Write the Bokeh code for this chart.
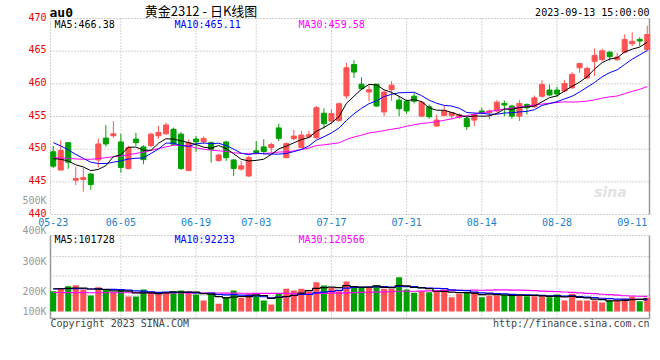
from bokeh.plotting import figure
from bokeh.models import Range1d, Label, ColumnDataSource
from bokeh.embed import file_html
from bokeh.resources import INLINE
from bokeh.core.properties import value

MONO = "DejaVu Sans Mono"
RED = "#ff5252"
GREEN = "#00a000"

dates = ["05-23","05-24","05-25","05-26","05-29","05-30","05-31","06-01","06-02",
         "06-05","06-06","06-07","06-08","06-09","06-12","06-13","06-14","06-15","06-16",
         "06-19","06-20","06-21","06-26","06-27","06-28","06-29","06-30",
         "07-03","07-04","07-05","07-06","07-07","07-10","07-11","07-12","07-13","07-14",
         "07-17","07-18","07-19","07-20","07-21","07-24","07-25","07-26","07-27","07-28",
         "07-31","08-01","08-02","08-03","08-04","08-07","08-08","08-09","08-10","08-11",
         "08-14","08-15","08-16","08-17","08-18","08-21","08-22","08-23","08-24","08-25",
         "08-28","08-29","08-30","08-31","09-01","09-04","09-05","09-06","09-07","09-08",
         "09-11","09-12","09-13"]
tick_dates = ["05-23","06-05","06-19","07-03","07-17","07-31","08-14","08-28","09-11"]
price_ticks = [440, 445, 450, 455, 460, 465, 470]
vol_grid = [128000, 284000, 440000]

open_ = [449.6,446.8,451.0,445.25,445.35,446.2,448.35,451.7,452.05,451.1,
         447.05,451.55,450.35,450.55,452.05,452.35,453.05,452.3,446.75,451.55,
         451.15,451.0,448.25,451.1,448.35,446.95,445.9,449.75,450.35,450.25,
         453.25,448.7,451.6,450.25,451.9,451.75,455.5,454.3,454.4,458.15,
         462.95,459.95,458.75,459.95,455.7,459.1,457.5,457.35,458.1,455.05,
         456.5,453.55,455.15,455.15,454.9,454.7,454.45,455.85,455.6,455.85,
         457.0,456.6,455.05,456.85,456.5,458.1,459.05,459.05,458.9,459.4,
         462.45,460.9,463.45,463.7,464.85,463.7,464.85,466.15,466.8,465.25]
high = [450.5,451.35,451.1,447.3,447.1,446.3,451.65,453.7,454.3,452.35,
        450.5,452.5,450.6,452.5,453.55,454.05,453.3,452.6,451.5,452.0,
        451.95,451.2,449.3,451.25,448.5,448.2,449.0,451.25,451.5,451.0,
        453.9,451.0,452.95,452.8,452.8,456.6,456.25,456.1,457.1,463.2,
        463.6,461.0,459.75,460.0,459.0,460.4,458.1,457.6,458.55,457.4,
        456.85,455.3,456.7,455.7,455.5,455.15,455.6,456.35,456.1,457.5,
        457.45,456.8,457.5,457.0,458.2,460.55,459.9,459.55,460.55,461.8,
        463.2,462.7,465.4,465.4,465.0,464.75,467.55,467.9,467.15,468.9]
low = [447.1,446.8,447.0,444.5,443.5,443.8,447.2,450.4,451.75,446.4,
       446.9,450.5,447.7,450.25,451.6,452.2,450.5,446.8,446.6,449.6,
       450.75,447.95,448.1,448.2,445.9,446.7,445.75,449.2,449.2,449.45,
       451.25,448.6,451.35,450.15,451.65,451.6,453.15,453.8,454.2,457.75,
       460.9,459.05,457.35,456.5,455.05,457.4,455.05,455.4,457.0,454.95,
       454.7,453.4,455.05,454.55,454.7,452.95,453.55,455.3,454.55,455.6,
       455.05,454.65,454.3,455.3,456.3,457.9,458.1,458.0,458.7,459.2,
       461.7,460.7,461.2,463.5,463.55,463.5,464.65,465.75,465.75,465.0]
close = [447.4,449.8,448.0,445.5,445.65,444.6,450.8,450.8,452.35,447.2,
         450.25,451.0,448.4,452.3,452.55,453.7,450.75,447.05,451.0,451.1,
         451.65,449.95,449.1,448.7,447.05,447.45,448.7,449.5,449.65,450.7,
         451.65,450.85,452.0,452.15,452.2,456.35,453.9,455.45,456.95,462.45,
         461.8,459.25,459.1,456.6,458.75,459.8,456.2,455.85,457.35,457.2,
         454.95,454.45,455.85,455.6,455.25,453.45,455.3,455.6,455.85,457.2,
         456.75,455.05,457.0,456.35,457.85,459.9,458.3,458.45,460.05,461.45,
         463.1,462.35,464.35,465.05,464.15,464.1,466.8,466.5,466.55,467.55]
ma5 = [448.55,448.45,448.2,447.6,447.28,446.71,446.9,447.47,448.84,449.15,
       450.28,450.32,449.84,449.83,450.9,451.59,451.54,451.27,451.0,450.72,
       450.31,450.14,450.56,450.1,449.29,448.45,448.2,448.28,448.46,449.2,
       450.04,450.47,450.97,451.48,451.78,452.72,453.33,454.01,454.97,457.02,
       458.11,459.17,459.91,459.83,459.09,458.69,458.08,457.43,457.58,457.28,
       456.31,455.96,455.96,455.61,455.22,454.92,455.09,455.04,455.09,455.47,
       456.14,456.09,456.37,456.47,456.61,457.24,457.88,458.16,458.91,459.62,
       460.26,461.08,462.26,463.25,463.79,463.99,464.87,465.31,465.62,466.38]
ma10 = [451.0,450.5,449.9,449.2,448.6,448.0,447.8,447.8,448.0,448.21,
        448.49,448.61,448.65,449.34,450.02,450.93,450.93,450.55,450.42,450.81,
        450.95,450.84,450.91,450.55,450.0,449.38,449.17,449.42,449.28,449.24,
        449.24,449.34,449.62,449.97,450.49,451.38,451.9,452.49,453.22,454.4,
        455.41,456.25,456.96,457.4,458.05,458.4,458.63,458.67,458.71,458.18,
        457.5,457.02,456.7,456.6,456.25,455.61,455.53,455.5,455.35,455.35,
        455.53,455.59,455.7,455.78,456.04,456.69,456.98,457.27,457.69,458.11,
        458.75,459.48,460.21,461.08,461.71,462.13,462.97,463.78,464.43,465.11]
ma30 = [448.7,448.65,448.6,448.5,448.45,448.45,448.55,448.7,448.85,448.95,
        449.15,449.35,449.55,449.8,450.1,450.35,450.6,450.6,450.5,450.2,
        450.0,449.85,449.75,449.65,449.45,449.35,449.3,449.3,449.35,449.42,
        449.56,449.59,449.73,449.95,450.17,450.56,450.66,450.82,450.97,451.48,
        451.86,452.14,452.49,452.64,452.84,453.05,453.23,453.52,453.73,453.94,
        454.05,454.2,454.42,454.65,454.93,455.13,455.35,455.55,455.76,455.97,
        456.14,456.28,456.45,456.59,456.78,456.9,457.04,457.14,457.25,457.21,
        457.26,457.36,457.54,457.82,458.0,458.14,458.49,458.85,459.16,459.58]
volume = [162000,186000,202000,210000,174000,128000,194000,174000,154000,176000,
          120000,120000,176000,154000,142000,150000,160000,168000,160000,136000,
          88000,146000,62000,114000,168000,110000,142000,128000,88000,56000,
          146000,182000,168000,182000,160000,234000,208000,190000,162000,240000,
          194000,190000,190000,208000,182000,182000,274000,176000,150000,162000,
          154000,168000,174000,114000,142000,154000,154000,114000,128000,128000,
          136000,134000,128000,122000,122000,122000,114000,136000,88000,142000,
          88000,88000,88000,72000,88000,94000,102000,120000,82000,110000]
vol_ma5 = [182000,182000,185000,188000,186800,180000,181600,176000,164800,165200,
           163600,148800,149200,149200,142400,148400,156400,154800,156000,154800,
           142400,139600,118400,109200,115600,120000,119200,132400,127200,104800,
           112000,120000,128000,146800,167600,185200,190400,194800,190800,206800,
           198800,195200,195200,204400,192800,190400,207200,204400,192800,188800,
           183200,162000,161600,154400,150400,150400,147600,135600,138400,135600,
           132000,128000,130800,129600,128400,125600,121600,123200,116400,120400,
           113600,108400,98800,95600,84800,86000,88800,95200,97200,101728]
vol_ma10 = [180000,182000,183000,183000,182000,180000,179000,178000,177000,176000,
            171800,165200,162600,157000,153800,156000,152600,152000,152600,148600,
            145400,148000,136600,132600,135200,131200,129400,125400,118200,110200,
            116000,119600,130200,137000,136200,148600,155200,161400,168800,187200,
            192000,192800,195000,197600,199800,194600,201200,199800,198600,190800,
            186800,184600,183000,173600,169600,166800,154800,148600,146400,143000,
            141200,137800,133200,134000,132000,128800,124800,127000,123000,124400,
            119600,115000,111000,106000,102600,99800,98600,97000,96400,92233]
vol_ma30 = [152000,152000,151000,151000,151000,150000,150000,150000,150000,150000,
            150000,150000,150000,150000,149000,149000,149000,149000,149000,148000,
            148000,148000,148000,147000,147000,146000,146000,145000,145000,144900,
            144400,144300,143100,142200,141700,145300,145700,146300,146500,148700,
            151100,153500,153900,155700,157100,158100,161900,162200,161900,162700,
            164900,165700,169400,169400,168500,170000,170400,169900,171300,173700,
            173300,171700,170400,168400,167100,163400,160300,158500,156000,152700,
            149200,145800,142400,137900,134700,131800,126100,124200,121900,120566]

n = len(dates)
xs = list(range(n))
colors = [RED if c >= o else GREEN for o, c in zip(open_, close)]
src = ColumnDataSource(dict(
    x=xs, high=high, low=low,
    top=[max(o, c) for o, c in zip(open_, close)],
    bottom=[min(o, c) for o, c in zip(open_, close)],
    color=colors, ma5=ma5, ma10=ma10, ma30=ma30,
    vol=volume, vma5=vol_ma5, vma10=vol_ma10, vma30=vol_ma30))
tick_idx = [dates.index(d) for d in tick_dates]

# ---- layout: one canvas, two panels on shared x scale ----
W, H = 660, 360
FX0, FX1 = 50, 649          # panel frame, pixels
PY0, PY1 = 18, 214          # price panel top/bottom, pixels
VY0, VY1 = 235, 318         # volume panel top/bottom, pixels
XL, XR = -0.36, 79.3        # index at panel left/right edge
KX = (FX1 - FX0) / (XR - XL)
PLO, PHI = price_ticks[0], price_ticks[-1]
KP = (PY1 - PY0) / (PHI - PLO)
VBASE, KV = 311, 8000.0     # pixel row of zero volume, volume per pixel


def lx(X):
    return XL + (X - FX0) / KX


def ly(Y):
    return PHI - (Y - PY0) / KP


def vy(Y):
    return (VBASE - Y) * KV


p = figure(width=W, height=H, x_range=Range1d(lx(0), lx(W)), y_range=Range1d(ly(H), ly(0)),
           output_backend="svg", toolbar_location=None,
           x_axis_location=None, y_axis_location=None,
           min_border=0, min_border_left=0, min_border_right=0,
           min_border_top=0, min_border_bottom=0)
p.extra_y_ranges = {"vol": Range1d(vy(H), vy(0))}
p.outline_line_color = None
p.background_fill_color = "white"
p.border_fill_color = "white"
for g in p.grid:
    g.visible = False

GRID = "#a8a8a8"
FRAME = "#999999"
VB, VT = vy(VY1), vy(VY0)

# price panel grid + frame
gx = tick_idx[1:-1]
p.segment(x0=gx, y0=[PLO] * len(gx), x1=gx, y1=[PHI] * len(gx),
          line_color=GRID, line_dash="1 2", line_width=1)
gy = price_ticks[1:-1]
p.segment(x0=[XL] * len(gy), y0=gy, x1=[XR] * len(gy), y1=gy,
          line_color=GRID, line_dash="1 2", line_width=1)
p.quad(left=[XL], right=[XR], bottom=[PLO], top=[PHI], fill_color=None,
       line_color="#a0a0a0", line_dash="1 2", line_width=1)
p.segment(x0=[XR], y0=[PLO], x1=[XR], y1=[PHI], line_color=FRAME, line_width=1.5)

# volume panel grid + frame
p.segment(x0=gx, y0=[VB] * len(gx), x1=gx, y1=[VT] * len(gx),
          line_color=GRID, line_dash="1 2", line_width=1, y_range_name="vol")
p.segment(x0=[XL] * len(vol_grid), y0=vol_grid, x1=[XR] * len(vol_grid), y1=vol_grid,
          line_color=GRID, line_dash="1 2", line_width=1, y_range_name="vol")
p.quad(left=[XL], right=[XR], bottom=[VB], top=[VT], fill_color=None,
       line_color="#a0a0a0", line_dash="1 2", line_width=1, y_range_name="vol")
p.segment(x0=[XL, XR, XL], y0=[VB, VB, VB], x1=[XL, XR, XR], y1=[VT, VT, VB],
          line_color=FRAME, line_width=1.5, y_range_name="vol")

# candles
p.segment(x0="x", y0="high", x1="x", y1="low", line_color="color", line_width=1, source=src)
p.vbar(x="x", width=0.67, top="top", bottom="bottom", fill_color="color",
       line_color="color", source=src)
p.line("x", "ma30", line_color="#ff00ff", line_width=1, source=src)
p.line("x", "ma10", line_color="#0000ff", line_width=1, source=src)
p.line("x", "ma5", line_color="black", line_width=1, source=src)

# volume bars
p.vbar(x="x", width=0.8, top="vol", bottom=0, fill_color="color", line_color=None,
       source=src, y_range_name="vol")
p.step("x", "vma30", mode="center", line_color="#ff00ff", line_width=1.2, source=src, y_range_name="vol")
p.step("x", "vma10", mode="center", line_color="#0000ff", line_width=1.2, source=src, y_range_name="vol")
p.step("x", "vma5", mode="center", line_color="black", line_width=1.2, source=src, y_range_name="vol")

# tick labels
p.text(x=[lx(46)] * len(price_ticks), y=price_ticks, text=[str(t) for t in price_ticks],
       text_align="right", text_baseline="middle", y_offset=-2,
       text_color="#ee0000", text_font=value(MONO), text_font_size="10px")
p.text(x=tick_idx, y=[ly(221.5)] * len(tick_idx), text=tick_dates,
       text_align="center", text_baseline="middle",
       text_color="#1a7fd1", text_font=value(MONO), text_font_size="10px")


def lab(text, X, Y, color="black", size="10px", align="left", font=MONO, style="normal"):
    p.add_layout(Label(x=lx(X), y=ly(Y), text=text, text_color=color, text_font=font,
                       text_font_size=size, text_align=align, text_baseline="middle",
                       text_font_style=style))


lab("au0", 49, 11.5, "black", "13px", "left", MONO, "bold")
lab("黄金2312 - 日K线图", 200.5, 9.5, "black", "13px", "center", "Noto Sans CJK SC")
lab("2023-09-13 15:00:00", 649, 12, "black", "10px", "right")
lab("MA5:%.2f" % ma5[-1], 54, 24, "black")
lab("MA10:%.2f" % ma10[-1], 174, 24, "#0000ff")
lab("MA30:%.2f" % ma30[-1], 298, 24, "#ff00ff")
for txt, Y in (("500K", 200), ("400K", 230), ("300K", 261), ("200K", 291), ("100K", 311)):
    lab(txt, 46, Y, "#999999", "10px", "right")
lab("MA5:%d" % vol_ma5[-1], 54, 239, "black")
lab("MA10:%d" % vol_ma10[-1], 174, 239, "#0000ff")
lab("MA30:%d" % vol_ma30[-1], 298, 239, "#ff00ff")
lab("Copyright 2023 SINA.COM", 50, 323, "#444444")
lab("http://finance.sina.com.cn", 649, 323, "#444444", "10px", "right")
lab("sina", 610, 191, "#e2e2e2", "14px", "center", "DejaVu Sans", "bold italic")

open("out.html", "w").write(file_html(p, INLINE))
